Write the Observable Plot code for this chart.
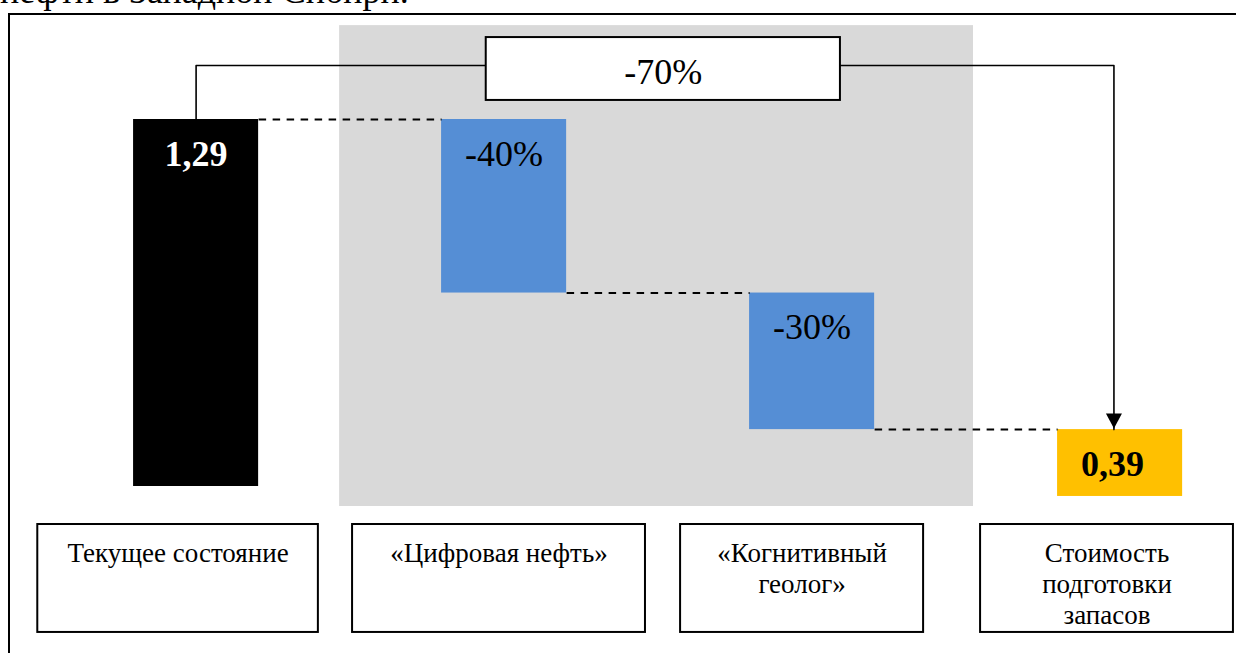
<!DOCTYPE html>
<html><head><meta charset="utf-8">
<script src="https://cdn.jsdelivr.net/npm/d3@7"></script>
<script src="https://cdn.jsdelivr.net/npm/@observablehq/plot@0.6"></script>
<style>
html,body{margin:0;padding:0;background:#fff;}
#wrap{position:relative;width:1236px;height:653px;overflow:hidden;font-family:"Liberation Serif","Times New Roman",serif;}
#title{position:absolute;left:0px;top:-27px;font-size:36px;line-height:36px;white-space:nowrap;color:#000;}
#frame{position:absolute;left:8px;top:13px;width:1400px;height:800px;border-left:2px solid #000;border-top:2px solid #000;}
#chart{position:absolute;left:0;top:0;}
</style></head><body>
<div id="wrap"><div id="title">нефти в Западной Сибири.</div><div id="frame"></div><div id="chart"></div></div>
<script>
// ---- data ----
const categories = ["Текущее состояние", "«Цифровая нефть»", "«Когнитивный\nгеолог»", "Стоимость\nподготовки\nзапасов"];
const barLabels = ["1,29", "-40%", "-30%", "0,39"];
const barTop = [1.29, 1.29, 0.68, 0.20];      // drawn (schematic) levels
const barBottom = [0, 0.68, 0.20, -0.035];
const kinds = ["start", "step", "step", "end"];
const totalLabel = "-70%";

// ---- styles / layout ----
const barColor = {start: "#000000", step: "#558ed5", end: "#ffc000"};
const labelColor = {start: "#ffffff", step: "#000000", end: "#000000"};
const hw = 0.203;          // half bar width (index units)
const bracketLevel = 1.48;
const boxExtent = [[-0.514, 0.397], [-0.492, 0.459], [-0.427, 0.362], [-0.453, 0.368]]; // label box edges relative to bar centre

const rows = categories.map((c, i) => ({i, category: c, label: barLabels[i], top: barTop[i], bottom: barBottom[i], kind: kinds[i]}));
const last = rows.length - 1;
const mid = last / 2 + 0.017;

const downTriangle = {draw(ctx) { ctx.moveTo(0, -1); ctx.lineTo(-8, -16); ctx.lineTo(8, -16); ctx.closePath(); }};

const chart = Plot.plot({
  width: 1236, height: 653,
  x: {type: "linear", domain: [0, last], range: [195.6, 1119.6], axis: null},
  y: {domain: [0, 1.29], range: [486, 119], axis: null},
  color: {type: "identity"},
  style: {fontFamily: "'Liberation Serif', serif", background: "transparent", overflow: "visible", color: "#000"},
  marks: [
    Plot.rect([0], {x1: 0.466, x2: 2.524, y1: -0.0703, y2: 1.62, fill: "#d9d9d9"}),
    Plot.rect(rows, {x1: d => d.i - hw, x2: d => d.i + hw, y1: "bottom", y2: "top", fill: d => barColor[d.kind]}),
    Plot.link(rows.slice(0, -1), {x1: d => d.i + hw, x2: d => d.i + 1 - hw, y1: d => barTop[d.i + 1], y2: d => barTop[d.i + 1], stroke: "#000", strokeWidth: 2, strokeDasharray: "7.5,6.5"}),
    Plot.line([[0, barTop[0]], [0, bracketLevel], [last - 0.02, bracketLevel], [last - 0.02, barTop[last]]], {x: d => d[0], y: d => d[1], stroke: "#000", strokeWidth: 1.6}),
    Plot.dot([rows[last]], {x: d => d.i - 0.02, y: "top", symbol: downTriangle, fill: "#000", stroke: null}),
    Plot.rect([0], {x1: mid - 0.575, x2: mid + 0.575, y1: 1.357, y2: 1.578, fill: "#fff", stroke: "#000", strokeWidth: 2}),
    Plot.text([totalLabel], {x: mid, y: 1.4165, text: d => d, lineAnchor: "bottom", fontSize: 36, fill: "#000"}),
    Plot.text(rows.filter(d => d.kind !== "step"), {x: d => d.i - (d.kind === "end" ? 0.025 : 0), y: "top", text: "label", dy: 46, lineAnchor: "bottom", fontSize: 36, fontWeight: "bold", fill: d => labelColor[d.kind]}),
    Plot.text(rows.filter(d => d.kind === "step"), {x: "i", y: "top", text: "label", dy: 46, lineAnchor: "bottom", fontSize: 36, fill: d => labelColor[d.kind]}),
    Plot.rect(rows, {x1: d => d.i + boxExtent[d.i][0], x2: d => d.i + boxExtent[d.i][1], y1: -0.513, y2: -0.1336, fill: "#fff", stroke: "#000", strokeWidth: 2}),
    Plot.text(rows, {x: d => d.i + (boxExtent[d.i][0] + boxExtent[d.i][1]) / 2, y: -0.1336, text: "category", lineAnchor: "top", dy: 15.5, fontSize: 27, lineHeight: 1.15, fill: "#000"})
  ]
});
document.getElementById("chart").appendChild(chart);
</script>
</body></html>
